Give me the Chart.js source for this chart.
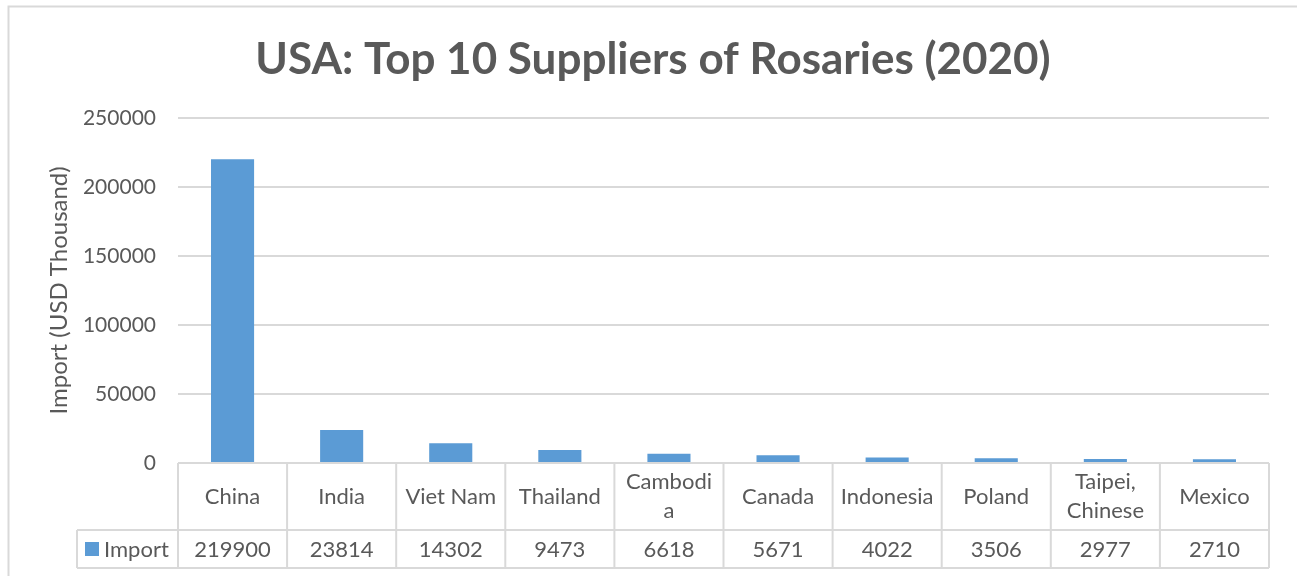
<!DOCTYPE html>
<html>
<head>
<meta charset="utf-8">
<script src="https://cdn.jsdelivr.net/npm/chart.js@4"></script>
<style>
  html, body { margin: 0; padding: 0; background: #fff; }
  #wrap { width: 1297px; height: 576px; position: relative; }
</style>
</head>
<body>
<div id="wrap"><canvas id="rosaryChart"></canvas></div>
<script>
// Data: top 10 suppliers of rosaries to the USA, 2020
const suppliers = ["China", "India", "Viet Nam", "Thailand", ["Cambodi", "a"], "Canada", "Indonesia", "Poland", ["Taipei,", "Chinese"], "Mexico"];
const importValues = [219900, 23814, 14302, 9473, 6618, 5671, 4022, 3506, 2977, 2710];
const yTicks = [0, 50000, 100000, 150000, 200000, 250000];
const seriesName = "Import";

const FONT = "Lato, 'Open Sans', sans-serif";
const TEXT = "#595959";
const LINE = "#d9d9d9";
const BAR = "#5b9bd5";

Chart.defaults.font.family = FONT;
Chart.defaults.color = TEXT;

// outer frame + data table under the x axis
const dataTable = {
  id: "dataTable",
  beforeDraw(chart) {
    const ctx = chart.ctx;
    ctx.save();
    ctx.fillStyle = "#fff";
    ctx.fillRect(0, 0, chart.width, chart.height);
    ctx.strokeStyle = LINE;
    ctx.lineWidth = 2;
    ctx.beginPath();
    ctx.moveTo(8.5, chart.height + 2);
    ctx.lineTo(8.5, 6.5);
    ctx.lineTo(chart.width + 2, 6.5);
    ctx.stroke();
    ctx.restore();
  },
  afterDraw(chart) {
    const ctx = chart.ctx;
    const x = chart.scales.x;
    const area = chart.chartArea;
    const rowTop = area.bottom;
    const rowMid = 530;
    const rowBot = 568;
    const legendLeft = 77;
    const step = (area.right - area.left) / suppliers.length;

    ctx.save();
    ctx.strokeStyle = LINE;
    ctx.lineWidth = 2;
    ctx.beginPath();
    // horizontal rules
    ctx.moveTo(area.left, rowTop); ctx.lineTo(area.right, rowTop);
    ctx.moveTo(legendLeft, rowMid); ctx.lineTo(area.right, rowMid);
    ctx.moveTo(legendLeft, rowBot); ctx.lineTo(area.right, rowBot);
    // vertical rules
    ctx.moveTo(legendLeft, rowMid); ctx.lineTo(legendLeft, rowBot);
    for (let i = 0; i <= suppliers.length; i++) {
      const gx = area.left + i * step;
      ctx.moveTo(gx, rowTop); ctx.lineTo(gx, rowBot);
    }
    ctx.stroke();

    ctx.fillStyle = TEXT;
    ctx.font = "22px " + FONT;
    ctx.textAlign = "center";
    ctx.textBaseline = "middle";
    suppliers.forEach((name, i) => {
      const cx = x.getPixelForValue(i);
      const lines = Array.isArray(name) ? name : [name];
      const lh = 29;
      const y0 = (rowTop + rowMid) / 2 - (lines.length - 1) * lh / 2;
      lines.forEach((ln, j) => ctx.fillText(ln, cx, y0 + j * lh));
      ctx.fillText(String(importValues[i]), cx, (rowMid + rowBot) / 2 + 1);
    });

    // legend key
    ctx.fillStyle = BAR;
    ctx.fillRect(85, 542, 14, 14);
    ctx.fillStyle = TEXT;
    ctx.textAlign = "left";
    ctx.fillText(seriesName, 104, (rowMid + rowBot) / 2 + 1);
    ctx.restore();
  }
};

new Chart(document.getElementById("rosaryChart"), {
  type: "bar",
  data: {
    labels: suppliers,
    datasets: [{
      label: seriesName,
      data: importValues,
      backgroundColor: BAR,
      barPercentage: 0.395,
      categoryPercentage: 1
    }]
  },
  options: {
    responsive: true,
    maintainAspectRatio: false,
    animation: false,
    layout: { padding: { left: 37, right: 28, top: 0, bottom: 105 } },
    plugins: {
      legend: { display: false },
      tooltip: { enabled: false },
      title: {
        display: true,
        text: "USA: Top 10 Suppliers of Rosaries (2020)",
        color: TEXT,
        font: { family: FONT, size: 44, weight: "bold" },
        padding: { top: 33, bottom: 32 }
      }
    },
    scales: {
      x: {
        ticks: { display: false },
        grid: { display: false },
        border: { display: false }
      },
      y: {
        min: 0,
        max: 250000,
        afterBuildTicks(scale) { scale.ticks = yTicks.map(v => ({ value: v })); },
        afterFit(scale) { scale.width = 141; },
        ticks: { color: TEXT, font: { size: 21 }, padding: 22, callback: v => String(v) },
        grid: { color: LINE, lineWidth: 2, drawTicks: false },
        border: { display: false },
        title: {
          display: true,
          text: "Import (USD Thousand)",
          color: TEXT,
          font: { size: 24 },
          padding: { top: 8, bottom: 0 }
        }
      }
    }
  },
  plugins: [dataTable]
});
</script>
</body>
</html>
